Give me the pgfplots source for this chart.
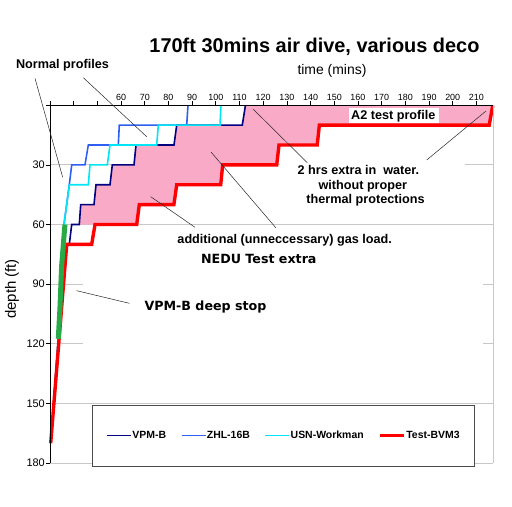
\documentclass[border=0pt]{standalone}
\usepackage{fontspec}
\setmainfont{Liberation Sans}
\newfontfamily\verd{DejaVu Sans}
\usepackage{pgfplots}
\pgfplotsset{compat=1.18}
\definecolor{vpm}{RGB}{0,0,128}
\definecolor{zhl}{RGB}{45,95,245}
\definecolor{usn}{RGB}{0,230,245}
\definecolor{bvm}{RGB}{255,0,0}
\definecolor{deep}{RGB}{40,170,70}
\definecolor{gasfill}{RGB}{249,170,199}
\definecolor{gridgray}{RGB}{200,200,200}
\begin{document}
\begin{tikzpicture}
\useasboundingbox (0,0) rectangle (512bp,507bp);
\begin{axis}[
  at={(50bp,44bp)}, anchor=south west,
  width=443bp, height=357.7bp, scale only axis,
  xmin=30, xmax=217, ymin=0, ymax=180,
  y dir=reverse, clip=false,
  axis line style={draw=none},
  /pgf/number format/assume math mode=true,
  xtick={30,40,...,210},
  xticklabels={{},{},{},60,70,80,90,100,110,120,130,140,150,160,170,180,190,200,210},
  ytick={0,30,...,180},
  yticklabels={{},30,60,90,120,150,180},
  xtick pos=right, ytick pos=left,
  xticklabel pos=right, yticklabel pos=left,
  tick align=outside, major tick length=4bp,
  tick style={black, line width=0.8bp},
  xtick style={draw=none},
  xticklabel style={font=\fontsize{9}{10}\selectfont, inner sep=1bp},
  yticklabel style={font=\fontsize{11}{12}\selectfont, inner sep=1bp},
  ymajorgrids, grid style={draw=gridgray, line width=0.9bp},
  legend columns=4,
  legend cell align=left,
  legend style={at={(axis cs:47.73,181.5)}, anchor=south west,
    draw=black!70, fill=white,
    inner xsep=14bp, inner ysep=25bp,
    font=\fontsize{10.5}{12}\selectfont\bfseries,
    nodes={inner sep=0.6bp},
    /tikz/every even column/.append style={column sep=14bp}},
]
% white boxes of the annotations, which hide the grid
\fill[white] (axis cs:43.93,83.9) rectangle (axis cs:212.78,127.1);
\fill[white] (axis cs:127.1,22.5) rectangle (axis cs:205.2,52.7);
% extra gas load between VPM-B and Test-BVM3
\addplot[fill=gasfill, draw=none, forget plot] coordinates {
(42.37,60) (42.96,50) (48.57,50) (49.42,40) (55.33,40) (56.30,30) (65.46,30)
(66.30,20) (82.34,20) (83.48,10) (111.17,10) (112.5,0) (216.9,0) (215.4,10)
(143.7,10) (142.8,20) (126.67,20) (125.7,30) (102.9,30) (102.06,40) (83.5,40)
(82.3,50) (67.7,50) (66.6,60)} -- cycle;
\addplot[vpm, line width=1.6bp,
  legend image code/.code={\draw[vpm, line width=1.6bp] (0bp,0bp) -- (24bp,0bp);}] coordinates {
(30.3,170) (33.5,118) (35.6,72) (36.2,70) (38.15,70) (39.16,60) (42.37,60)
(42.96,50) (48.57,50) (49.42,40) (55.33,40) (56.30,30) (65.46,30) (66.30,20)
(82.34,20) (83.48,10) (111.17,10) (112.5,0)};
\addlegendentry{VPM-B}
\addplot[zhl, line width=1.6bp,
  legend image code/.code={\draw[zhl, line width=1.6bp] (0bp,0bp) -- (24bp,0bp);}] coordinates {
(30.3,170) (33.5,118) (35.9,60) (38.15,40) (39.16,30) (44.77,30) (46.17,20)
(58.83,20) (59.25,10) (87.7,10) (88.25,0)};
\addlegendentry{ZHL-16B}
\addplot[usn, line width=1.6bp,
  legend image code/.code={\draw[usn, line width=1.6bp] (0bp,0bp) -- (24bp,0bp);}] coordinates {
(30.3,170) (33.5,118) (35.9,60) (38.15,40) (46.17,40) (46.88,30) (54.19,30)
(55.33,20) (75.04,20) (75.72,10) (101.76,10) (102.18,0)};
\addlegendentry{USN-Workman}
\addplot[bvm, line width=3.4bp,
  legend image code/.code={\draw[bvm, line width=3.4bp] (0bp,0bp) -- (24bp,0bp);}] coordinates {
(30.3,170) (37.06,70) (47.6,70) (49.0,60) (66.6,60) (67.7,50) (82.3,50)
(83.5,40) (102.06,40) (102.9,30) (125.7,30) (126.67,20) (142.8,20) (143.7,10)
(215.4,10) (216.9,0)};
\addlegendentry{Test-BVM3}
\addplot[deep, line width=5bp, forget plot] coordinates {
(33.5,117.5) (34.2,102) (34.9,81) (35.6,70.5) (36.3,60)};
% axis lines and the upper time ticks
\draw[gridgray, line width=0.9bp] (axis cs:217,0) -- (axis cs:217,180);
\draw[black, line width=0.8bp] (axis cs:30,180) -- (axis cs:30,0) -- (axis cs:217,0);
\pgfplotsinvokeforeach{30,40,...,210}{
  \draw[black, line width=0.8bp] (axis cs:#1,0) -- ([yshift=4bp]axis cs:#1,0);
}
\end{axis}
% titles
\node[anchor=base, inner sep=0pt, font=\fontsize{20}{24}\selectfont\bfseries] at (314.5bp,454bp) {170ft 30mins air dive, various deco};
\node[anchor=base, inner sep=0pt, font=\fontsize{14}{16}\selectfont] at (332bp,432.5bp) {time (mins)};
\node[rotate=90, inner sep=0pt, font=\fontsize{15}{17}\selectfont] at (12bp,218bp) {depth (ft)};
% annotations
\begin{scope}[every node/.style={inner sep=0pt, anchor=base, font=\fontsize{12.7}{14}\selectfont\bfseries}]
\node at (62.5bp,438.7bp) {Normal profiles};
\fill[white] (349bp,384.3bp) rectangle (439bp,399.3bp);
\node at (393.3bp,387.5bp) {A2 test profile};
\node at (358.4bp,332.7bp) {2 hrs extra in~ water.};
\node at (362.8bp,317bp) {without proper};
\node at (365.5bp,303.7bp) {thermal protections};
\node at (284.7bp,263bp) {additional (unneccessary) gas load.};
\node[font=\fontsize{12.7}{14}\selectfont\verd\bfseries] at (258.8bp,243bp) {NEDU Test extra};
\node[font=\fontsize{12.7}{14}\selectfont\verd\bfseries] at (205.5bp,196.3bp) {VPM-B deep stop};
\end{scope}
\begin{scope}[black!85, line width=0.5bp]
\draw (35bp,428.7bp) -- (62.7bp,329.7bp);
\draw (83.3bp,429.3bp) -- (146.7bp,370.3bp);
\draw (253.3bp,397.7bp) -- (307.3bp,344.3bp);
\draw (486bp,396bp) -- (426.7bp,347bp);
\draw (150.7bp,310.3bp) -- (195bp,279.7bp);
\draw (211bp,355bp) -- (276bp,279bp);
\draw (76.7bp,216.3bp) -- (129.3bp,203.7bp);
\end{scope}
\end{tikzpicture}
\end{document}
